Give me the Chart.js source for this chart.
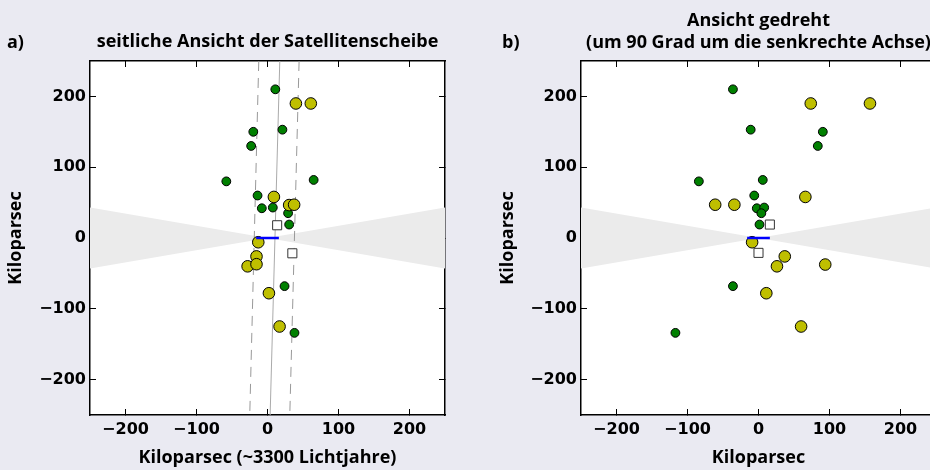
<!DOCTYPE html>
<html>
<head>
<meta charset="utf-8">
<script src="https://cdn.jsdelivr.net/npm/chart.js@4"></script>
<style>
    html, body { margin: 0; padding: 0; width: 930px; height: 470px; overflow: hidden; background: #eaeaf2; }
    #side { position: absolute; left: 0; top: 0; }
    #rot { position: absolute; left: 465px; top: 0; }
</style>
</head>
<body>
<canvas id="side" width="465" height="470"></canvas>
<canvas id="rot" width="491" height="470"></canvas>
<script>
// Axis setup
const tickValues = [-200, -100, 0, 100, 200]
const axisMin = -250
const axisMax = 250

// a) side view of the satellite disk  [x, y] in kpc
const sideGreen = [[11, 210], [21, 153], [-20, 150], [-23, 130], [-58, 80], [65, 82], [-14, 60], [-8, 42], [7.5, 43], [29, 35], [30.5, 19], [24, -68], [38, -134]]
const sideYellow = [[40, 190], [61, 190], [9, 58], [30.5, 46.5], [37.5, 47], [-13, -6], [-15.5, -26], [-28, -40], [-15.5, -37], [2, -78], [17, -125]]
const sideSquares = [[13.6, 18], [35, -21.6]]
const planeLine = [[17.3, 250], [3.7, -250]]
const planeLow = [[-12.3, 250], [-25, -250]]
const planeHigh = [[44.5, 250], [31.4, -250]]

// b) rotated view
const rotGreen = [[-36, 210], [-11, 153], [90.6, 150], [83.5, 130], [-84, 80], [6, 82], [-6, 60], [-2.4, 42], [8, 43], [4, 35], [1.4, 19], [-36, -68], [-117, -134]]
const rotYellow = [[73.6, 190], [157, 190], [66, 58], [-61, 47], [-34, 47], [-9, -6], [37, -26], [26, -40], [94, -37.5], [11, -78], [60, -125]]
const rotSquares = [[16, 19], [0, -21]]

// both panels: obscured zone and the blue bar
const wedgeLeft = [[-250, 43], [0, 0], [-250, -43]]
const wedgeRight = [[250, 43], [0, 0], [250, -43]]
const blueBar = [[-16, 0], [16, 0]]

Chart.defaults.font.family = 'Open Sans'
Chart.defaults.font.weight = 'bold'
Chart.defaults.color = '#000'

const toXY = (arr) => arr.map(([x, y]) => ({ x, y }))
const fmt = (v) => v < 0 ? '\u2212' + Math.abs(v) : String(v)
const setTicks = (scale) => { scale.ticks = tickValues.map(v => ({ value: v })) }

const plotBg = {
    id: 'plotBg',
    beforeDraw(chart) {
        const { ctx, chartArea: a } = chart
        ctx.save()
        ctx.fillStyle = '#fff'
        ctx.fillRect(a.left, a.top, a.right - a.left, a.bottom - a.top)
        ctx.restore()
    }
}

const panelLabel = {
    id: 'panelLabel',
    afterDraw(chart, args, opts) {
        const ctx = chart.ctx
        ctx.save()
        ctx.font = 'bold 18px "Open Sans"'
        ctx.fillStyle = '#000'
        ctx.textBaseline = 'middle'
        ctx.fillText(opts.text, opts.x, opts.y)
        ctx.restore()
    }
}

const frame = { color: '#000', width: 1.5 }
const inwardGrid = { drawOnChartArea: false, tickLength: -6, tickColor: '#000', tickWidth: 1 }
const tickFont = { family: 'DejaVu Sans', size: 16, weight: 'bold' }
const labelFont = { size: 18, weight: 'bold', lineHeight: '20px' }

const lineSet = (pts, color, width, dash, order) => ({
    type: 'line', data: toXY(pts), borderColor: color, borderWidth: width, borderDash: dash,
    pointRadius: 0, fill: false, tension: 0, order: order
})

const wedgeSet = (pts) => ({
    type: 'line', data: toXY(pts), borderWidth: 0, borderColor: 'rgba(0,0,0,0)',
    backgroundColor: '#ebebeb', fill: 'shape', pointRadius: 0, tension: 0, order: 20
})

const pointSet = (pts, fillColor, radius, style, borderColor, order) => ({
    type: 'scatter', data: toXY(pts), pointStyle: style, pointRadius: radius,
    backgroundColor: fillColor, borderColor: borderColor, borderWidth: 1, order: order
})

const makeChart = (id, o) => {
    const datasets = [
        wedgeSet(wedgeLeft),
        wedgeSet(wedgeRight),
        ...o.extraLines,
        pointSet(o.green, '#008000', 4.4, 'circle', '#000', 4),
        pointSet(o.yellow, '#bfbf00', 5.8, 'circle', '#000', 3),
        pointSet(o.squares, '#fff', 6.4, 'rect', '#333', 2),
        lineSet(blueBar, '#0000ff', 2.5, [], 1)
    ]

    return new Chart(document.getElementById(id), {
        type: 'scatter',
        data: { datasets },
        options: {
            responsive: false,
            animation: false,
            layout: { padding: 0 },
            plugins: {
                legend: { display: false },
                tooltip: { enabled: false },
                title: {
                    display: true, text: o.title, fullSize: false, color: '#000',
                    font: { size: 18, weight: 'bold', lineHeight: '22px' },
                    padding: o.titlePad
                },
                panelLabel: o.label
            },
            scales: {
                x: {
                    type: 'linear', min: axisMin, max: axisMax,
                    afterBuildTicks: setTicks,
                    afterFit: (s) => { s.height = 55 },
                    grid: inwardGrid, border: frame,
                    ticks: { padding: 11, callback: fmt, font: tickFont, color: '#000', maxRotation: 0 },
                    title: { display: true, text: o.xTitle, color: '#000', font: labelFont, padding: { top: 0, bottom: 2 } }
                },
                y: {
                    type: 'linear', min: axisMin, max: axisMax,
                    afterBuildTicks: setTicks,
                    afterFit: (s) => { s.width = o.yWidth },
                    grid: inwardGrid, border: frame,
                    ticks: { padding: 10, callback: fmt, font: tickFont, color: '#000' },
                    title: { display: true, text: 'Kiloparsec', color: '#000', font: labelFont, padding: { top: o.yTitlePad, bottom: 0 } }
                },
                x2: {
                    type: 'linear', position: 'top', min: axisMin, max: axisMax,
                    afterBuildTicks: setTicks,
                    afterFit: (s) => { s.height = 5 },
                    grid: inwardGrid, border: frame, ticks: { display: false }
                },
                y2: {
                    type: 'linear', position: 'right', min: axisMin, max: axisMax,
                    afterBuildTicks: setTicks,
                    afterFit: (s) => { s.width = 20 },
                    grid: inwardGrid, border: frame, ticks: { display: false }
                }
            }
        },
        plugins: [plotBg, panelLabel]
    })
}

makeChart('side', {
    title: 'seitliche Ansicht der Satellitenscheibe',
    titlePad: { top: 31, bottom: 3 },
    label: { text: 'a)', x: 7, y: 43 },
    xTitle: 'Kiloparsec (~3300 Lichtjahre)',
    yWidth: 90,
    yTitlePad: 6,
    green: sideGreen,
    yellow: sideYellow,
    squares: sideSquares,
    extraLines: [
        lineSet(planeLine, '#aaaaaa', 1, [], 10),
        lineSet(planeLow, '#999999', 1, [10, 7], 10),
        lineSet(planeHigh, '#999999', 1, [10, 7], 10)
    ]
})

makeChart('rot', {
    title: ['Ansicht gedreht', '(um 90 Grad um die senkrechte Achse)'],
    titlePad: { top: 10, bottom: 2 },
    label: { text: 'b)', x: 37, y: 43 },
    xTitle: 'Kiloparsec',
    yWidth: 116,
    yTitlePad: 33,
    green: rotGreen,
    yellow: rotYellow,
    squares: rotSquares,
    extraLines: []
})
</script>
</body>
</html>
